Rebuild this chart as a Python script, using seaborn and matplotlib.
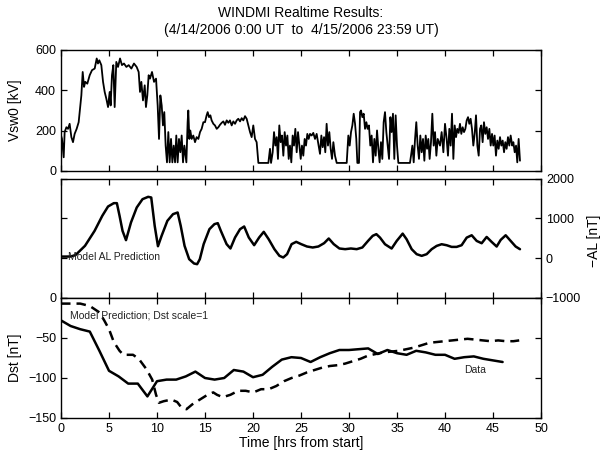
import matplotlib
matplotlib.use("Agg")
import matplotlib.pyplot as plt
import seaborn as sns
import pandas as pd
import numpy as np

# ---------------- data ----------------
vsw_hours = [0, 0.1, 0.28, 0.38, 0.56, 0.73, 0.9, 1.08, 1.25, 1.42, 1.63, 1.84, 1.98, 2.12, 2.26, 2.4, 2.53, 2.74, 2.99, 3.23,
             3.51, 3.72, 3.85, 3.99, 4.2, 4.38, 4.55, 4.72, 4.9, 5.07, 5.17, 5.31, 5.45, 5.59, 5.76, 5.94, 6.15, 6.35, 6.56, 6.81,
             7.05, 7.33, 7.6, 7.88, 8.09, 8.23, 8.37, 8.54, 8.72, 8.85, 8.99, 9.13, 9.27, 9.48, 9.69, 9.9,
             10.07, 10.21, 10.35, 10.49, 10.62, 10.76, 10.9, 11.04, 11.18, 11.32, 11.46, 11.6, 11.74, 11.88, 12.01, 12.15, 12.29,
             12.43, 12.57, 12.71, 12.85, 13.06, 13.19, 13.26, 13.37, 13.47, 13.61, 13.78, 13.96, 14.13, 14.31, 14.48, 14.65, 14.83,
             15.0, 15.17, 15.28, 15.42, 15.56, 15.69, 15.87, 16.04, 16.22, 16.39, 16.56, 16.74, 16.91, 17.08, 17.26, 17.43, 17.6,
             17.78, 17.95, 18.13, 18.3, 18.47, 18.65, 18.82, 18.99, 19.17, 19.34, 19.51, 19.69, 19.86,
             20.03, 20.21, 20.38, 20.56, 21.6, 21.77, 21.88, 22.05, 22.19, 22.33, 22.47, 22.6, 22.74, 22.88, 23.02, 23.16, 23.3,
             23.44, 23.58, 23.72, 23.85, 23.99, 24.13, 24.27, 24.41, 24.55, 24.69, 24.83, 24.97, 25.1, 25.24, 25.38, 25.52, 25.66,
             25.8, 25.94, 26.11, 26.28, 26.46, 26.63, 26.81, 26.98, 27.12, 27.26, 27.4, 27.53, 27.67, 27.81, 27.95, 28.09, 28.23,
             28.37, 28.54, 28.72, 29.76,
             29.93, 30.07, 30.21, 30.35, 30.49, 30.63, 30.76, 30.87, 31.04, 31.15, 31.25, 31.39, 31.53, 31.67, 31.81, 31.94, 32.08,
             32.22, 32.36, 32.5, 32.64, 32.78, 32.92, 33.06, 33.19, 33.33, 33.47, 33.61, 33.75, 33.89, 34.03, 34.17, 34.31, 34.44,
             34.58, 34.72, 34.86, 35.0, 35.14, 36.35, 36.46, 36.6, 36.74, 36.88, 37.01, 37.15, 37.29, 37.43, 37.57, 37.71, 37.85,
             37.99, 38.13, 38.26, 38.4, 38.54, 38.68, 38.82, 38.96, 39.1, 39.24,
             39.48, 39.65, 39.83, 40.0, 40.17, 40.31, 40.45, 40.59, 40.73, 40.87, 41.01, 41.15, 41.28, 41.42, 41.56, 41.7, 41.84,
             41.98, 42.12, 42.26, 42.4, 42.53, 42.67, 42.81, 42.95, 43.09, 43.23, 43.37, 43.51, 43.65, 43.78, 43.92, 44.06, 44.2,
             44.34, 44.48, 44.62, 44.76, 44.9, 45.03, 45.17, 45.31, 45.45, 45.59, 45.73, 45.87, 46.01, 46.15, 46.28, 46.42, 46.56,
             46.7, 46.84, 47.0, 47.12, 47.26, 47.4, 47.53, 47.67, 47.81]
vsw_kv = [176, 160, 68, 193, 217, 209, 234, 168, 143, 184, 209, 242, 309, 375, 491, 417, 442, 433, 475, 500,
          508, 558, 533, 549, 525, 442, 392, 359, 317, 392, 325, 475, 525, 317, 541, 516, 558, 525, 533, 516,
          525, 508, 533, 516, 491, 392, 442, 350, 425, 317, 375, 475, 458, 491, 442, 458,
          325, 159, 375, 325, 226, 292, 126, 43, 193, 43, 159, 43, 126, 43, 176, 43, 159,
          93, 176, 43, 126, 43, 242, 300, 159, 201, 159, 176, 143, 168, 159, 193, 209, 242,
          242, 276, 292, 267, 276, 251, 234, 226, 209, 217, 229, 239, 246, 229, 251, 239, 251,
          226, 246, 234, 251, 259, 246, 262, 251, 272, 259, 226, 193, 168,
          226, 159, 143, 40, 40, 110, 40, 93, 193, 126, 168, 60, 226, 143, 176, 76, 193,
          126, 176, 60, 126, 43, 176, 126, 209, 93, 193, 126, 60, 126, 76, 159, 126, 184,
          159, 184, 176, 189, 159, 184, 134, 85, 176, 118, 168, 93, 234, 126, 193, 110, 60,
          143, 76, 40, 40,
          176, 126, 193, 226, 284, 234, 159, 40, 40, 292, 300, 267, 284, 209, 242, 209, 226,
          126, 176, 43, 159, 76, 201, 110, 43, 143, 60, 242, 292, 193, 126, 60, 267, 193,
          284, 60, 276, 126, 40, 40, 76, 126, 43, 159, 242, 126, 60, 176, 93, 159, 51,
          176, 110, 159, 60, 143, 284, 126, 193, 76, 159,
          126, 193, 93, 234, 159, 76, 209, 126, 284, 60, 226, 168, 209, 189, 234, 184, 217,
          193, 209, 251, 267, 234, 259, 209, 126, 184, 276, 126, 76, 209, 226, 143, 242, 184,
          217, 159, 209, 126, 184, 126, 176, 76, 151, 110, 168, 126, 151, 93, 143, 110, 168,
          126, 176, 126, 143, 93, 126, 43, 159, 51]

al_hours = [0, 0.5, 1.0, 1.5, 2.5, 3.5, 4.3, 4.9, 5.5, 5.82, 6.1, 6.41, 6.77, 7.29, 7.89, 8.49, 9.08, 9.4, 9.76, 10.1,
            10.48, 11.08, 11.67, 12.15, 12.47, 12.87, 13.35, 13.86, 14.18, 14.46, 14.86, 15.46, 15.98, 16.33, 16.65, 17.25,
            17.65, 18.13, 18.65, 19.08, 19.56, 20.12, 20.64, 21.12, 21.63, 22.23, 22.75, 23.15, 23.55, 24.02, 24.5, 25.02,
            25.62, 26.22, 26.81, 27.41, 27.89, 28.41, 29.0, 29.6, 30.2, 30.8, 31.39, 31.99, 32.47, 32.85, 33.23, 33.75,
            34.44, 34.97, 35.59, 36.0, 36.53, 37.05, 37.57, 38.09, 38.61, 39.13, 39.65, 40.17, 40.69, 41.21, 41.73, 42.26,
            42.78, 43.3, 43.82, 44.34, 44.86, 45.38, 45.8, 46.32, 46.84, 47.36, 47.81]
al_nt = [40, 40, 42, 75, 310, 686, 1063, 1297, 1381, 1381, 1063, 686, 452, 896, 1272, 1481, 1540, 1523, 812, 300,
         561, 937, 1105, 1147, 812, 310, -25, -134, -151, -25, 352, 728, 854, 879, 686, 352,
         243, 519, 728, 795, 519, 326, 519, 661, 477, 226, 59, 17, 100, 352, 410, 352,
         293, 268, 293, 377, 494, 352, 243, 226, 243, 226, 268, 435, 561, 603, 516, 350,
         242, 433, 616, 475, 225, 100, 58, 100, 225, 308, 350, 325, 283, 283, 325, 516,
         575, 433, 375, 533, 408, 292, 458, 575, 433, 292, 225]

dst_hours = list(range(0, 47))
dst_obs = [-28, -35, -39, -42, -66, -91, -98, -107, -107, -123, -104, -102, -102, -98, -92, -100, -102, -100, -90, -92,
           -99, -96, -86, -77, -74, -75, -80, -74, -69, -65, -65, -64, -63, -70, -65, -69, -71, -66, -68, -71,
           -71, -76, -74, -73, -76, -78, -80]

model_hours = [0, 2, 3, 4, 4.5, 5, 5.5, 6.1, 6.5, 7.5, 8.1, 8.9, 9.5, 9.9, 10.2, 10.7, 11.5, 12.1, 12.55, 13.07,
               13.67, 14.46, 15.26, 15.86, 16.25, 16.85, 17.65, 18.45, 19.24, 20.04, 20.84, 21.63, 22.43, 23.23, 24.02,
               24.82, 25.62, 26.41, 27.21, 28.01, 28.8, 29.6, 30.4, 31.2, 31.99, 32.79, 33.59, 34.38, 35.18, 35.98,
               36.77, 37.57, 38.37, 39.16, 39.96, 40.76, 41.55, 42.35, 43.15, 43.94, 44.74, 45.54, 46.33, 47.13, 47.73]
model_dst = [-7, -7, -10, -18, -28, -39, -55, -66, -71, -71, -76, -89, -102, -121, -131, -129, -127, -130, -137, -139,
             -133, -127, -121, -118, -121, -124, -121, -116, -116, -118, -114, -114, -110, -104, -100,
             -97, -93, -90, -87, -85, -84, -82, -79, -76, -72, -70, -68, -67, -66, -64,
             -62, -59, -56, -55, -54, -53, -52, -51, -52, -53, -54, -53, -54, -54, -53]

x_ticks = [0, 5, 10, 15, 20, 25, 30, 35, 40, 45, 50]
vsw_ticks = [0, 200, 400, 600]
al_ticks = [-1000, 0, 1000, 2000]
dst_ticks = [-150, -100, -50, 0]

title_lines = ["WINDMI Realtime Results:", "(4/14/2006 0:00 UT  to  4/15/2006 23:59 UT)"]

# ---------------- style ----------------
sns.set_theme(style="ticks")
plt.rcParams['font.family'] = ['Liberation Sans', 'DejaVu Sans']
plt.rcParams.update({
    'axes.linewidth': 1.0,
    'axes.edgecolor': 'black',
    'xtick.direction': 'in', 'ytick.direction': 'in',
    'xtick.major.size': 4.5, 'ytick.major.size': 4.5,
    'xtick.major.width': 0.9, 'ytick.major.width': 0.9,
    'xtick.labelsize': 9, 'ytick.labelsize': 9,
    'xtick.color': 'black', 'ytick.color': 'black',
    'axes.labelsize': 10, 'axes.labelcolor': 'black',
    'text.color': 'black',
})

W, H = 601, 454
fig = plt.figure(figsize=(W / 100, H / 100), dpi=100)
fig.patch.set_facecolor('white')

def rect(x0, y0, x1, y1):
    return [x0 / W, 1 - y1 / H, (x1 - x0) / W, (y1 - y0) / H]

ax1 = fig.add_axes(rect(61, 50, 541, 171))
ax2 = fig.add_axes(rect(61, 178.5, 541, 298))
ax3 = fig.add_axes(rect(61, 298, 541, 418))

df_vsw = pd.DataFrame({'t': vsw_hours, 'v': vsw_kv})
df_al = pd.DataFrame({'t': al_hours, 'v': al_nt})
df_dst = pd.DataFrame({'t': dst_hours, 'v': dst_obs})
df_mod = pd.DataFrame({'t': model_hours, 'v': model_dst})

sns.lineplot(data=df_vsw, x='t', y='v', ax=ax1, color='black', lw=1.3, estimator=None, sort=False)
sns.lineplot(data=df_al, x='t', y='v', ax=ax2, color='black', lw=1.8, estimator=None, sort=False)
sns.lineplot(data=df_dst, x='t', y='v', ax=ax3, color='black', lw=1.8, estimator=None, sort=False)
sns.lineplot(data=df_mod, x='t', y='v', ax=ax3, color='black', lw=1.8, estimator=None, sort=False)
ax3.lines[-1].set_linestyle((0, (3.8, 2.4)))

for ax in (ax1, ax2, ax3):
    ax.set_xlim(0, 50)
    ax.set_xticks(x_ticks)
    ax.tick_params(top=True, bottom=True, left=True, right=True)
    for s in ax.spines.values():
        s.set_visible(True)
        s.set_color('black')
    ax.set_facecolor('white')
    ax.set_xlabel('')
    ax.set_ylabel('')

ax1.set_ylim(0, 600)
ax1.set_yticks(vsw_ticks)
ax1.tick_params(labelbottom=False)
ax1.set_ylabel('Vsw0 [kV]')
ax1.yaxis.set_label_coords(-0.081, 0.5)

ax2.set_ylim(-1000, 2000)
ax2.set_yticks(al_ticks)
ax2.tick_params(labelbottom=False, labelleft=False, labelright=True)
ax2.yaxis.set_label_position('right')
ax2.set_ylabel('\u2212AL [nT]')
ax2.yaxis.set_label_coords(1.095, 0.48)
ax2.text(0.75, 40, 'Model AL Prediction', fontsize=7.5, color='#222222', ha='left', va='center')

ax3.set_ylim(-150, 0)
ax3.set_yticks(dst_ticks)
ax3.set_ylabel('Dst [nT]')
ax3.yaxis.set_label_coords(-0.081, 0.5)
ax3.set_xlabel('Time [hrs from start]', labelpad=1)
ax3.text(0.9, -22, 'Model Prediction; Dst scale=1', fontsize=7.5, color='#222222', ha='left', va='center')
ax3.text(41.95, -90, 'Data', fontsize=7.5, color='#222222', ha='left', va='center')

fig.text(301 / W, 1 - 13 / H, title_lines[0], ha='center', va='center', fontsize=10)
fig.text(301 / W, 1 - 30 / H, title_lines[1], ha='center', va='center', fontsize=10)

fig.savefig('out.png', dpi=100, facecolor='white')
